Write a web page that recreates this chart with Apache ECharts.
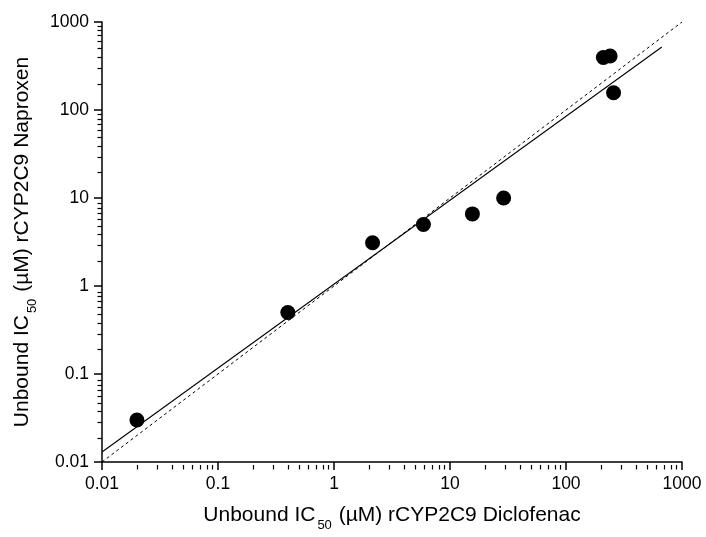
<!DOCTYPE html>
<html>
<head>
<meta charset="utf-8">
<script src="https://cdn.jsdelivr.net/npm/echarts@6/dist/echarts.min.js"></script>
<style>
html,body{margin:0;padding:0;background:#fff;}
#chart{width:706px;height:537px;}
</style>
</head>
<body>
<div id="chart"></div>
<script>
// Data
var diclofenacIC50 = [0.02, 0.4, 2.15, 5.9, 15.6, 29, 210, 240, 257];
var naproxenIC50   = [0.03, 0.5, 3.1, 5.0, 6.6, 10, 395, 411, 157];
// regression line endpoints (solid)
var fitX = [0.01, 670];
var fitY = [0.013, 520];
// line of identity endpoints (dashed)
var unityX = [0.01, 1000];
var unityY = [0.01, 1000];
// tick labels (decades)
var tickLabels = ['0.01', '0.1', '1', '10', '100', '1000'];
var minorMultipliers = [2, 3, 4, 5, 6, 7, 8, 9];

function pairs(a, b) { return a.map(function (v, i) { return [v, b[i]]; }); }

// minor tick positions in log10 space (axis decoration only)
var minorLogs = [];
for (var d = -2; d < 3; d++) {
  minorMultipliers.forEach(function (m) { minorLogs.push(d + Math.log10(m)); });
}

var FONT = '"Liberation Sans", Arial, sans-serif';
var nameRich = {
  n: { fontSize: 21, fontFamily: FONT, color: '#000', lineHeight: 25, verticalAlign: 'top' },
  s: { fontSize: 13, fontFamily: FONT, color: '#000', lineHeight: 15, verticalAlign: 'top', padding: [14, 1, 0, 2] }
};
function fmt(v) {
  var l = Math.round(Math.log10(v)) + 2;
  return tickLabels[l] !== undefined ? tickLabels[l] : '';
}
function axisCommon() {
  return {
    type: 'log',
    gridIndex: 0,
    logBase: 10,
    min: 0.01,
    max: 1000,
    interval: 1,
    nameLocation: 'middle',
    axisLine: { show: true, onZero: false, lineStyle: { color: '#000', width: 1.5 } },
    axisTick: { show: true, inside: false, length: 8, lineStyle: { color: '#000', width: 1.5 } },
    minorTick: { show: false },
    splitLine: { show: false },
    minorSplitLine: { show: false },
    axisLabel: { color: '#000', fontSize: 17.5, fontFamily: FONT, margin: 13, formatter: fmt }
  };
}
function minorAxis(pos) {
  return {
    type: 'value',
    gridIndex: 1,
    position: pos,
    min: -2,
    max: 3,
    axisLine: { show: false, onZero: false },
    axisLabel: { show: false },
    splitLine: { show: false },
    axisTick: { show: true, inside: false, length: 4.5, customValues: minorLogs, lineStyle: { color: '#000', width: 1.2 } }
  };
}
var xAxis = axisCommon();
xAxis.name = '{n|Unbound IC}{s|50}{n| (\u00b5M) rCYP2C9 Diclofenac}';
xAxis.nameGap = 43;
xAxis.nameTextStyle = { rich: nameRich };
var yAxis = axisCommon();
yAxis.name = '{n|Unbound IC}{s|50}{n| (\u00b5M) rCYP2C9 Naproxen}';
yAxis.nameGap = 63;
yAxis.nameTextStyle = { rich: nameRich };

var gridBox = { left: 102, right: 24, top: 22, bottom: 72, containLabel: false };
var chart = echarts.init(document.getElementById('chart'), null, { renderer: 'canvas' });
chart.setOption({
  animation: false,
  backgroundColor: '#fff',
  grid: [Object.assign({}, gridBox), Object.assign({}, gridBox)],
  xAxis: [xAxis, minorAxis('bottom')],
  yAxis: [yAxis, minorAxis('left')],
  series: [
    {
      type: 'line',
      data: pairs(unityX, unityY),
      symbol: 'none',
      lineStyle: { color: '#000', width: 1, type: [3, 3] },
      z: 2
    },
    {
      type: 'line',
      data: pairs(fitX, fitY),
      symbol: 'none',
      lineStyle: { color: '#000', width: 1.1 },
      z: 3
    },
    {
      type: 'scatter',
      data: pairs(diclofenacIC50, naproxenIC50),
      symbol: 'circle',
      symbolSize: 15,
      itemStyle: { color: '#000', opacity: 1 },
      z: 4
    }
  ]
});
</script>
</body>
</html>
